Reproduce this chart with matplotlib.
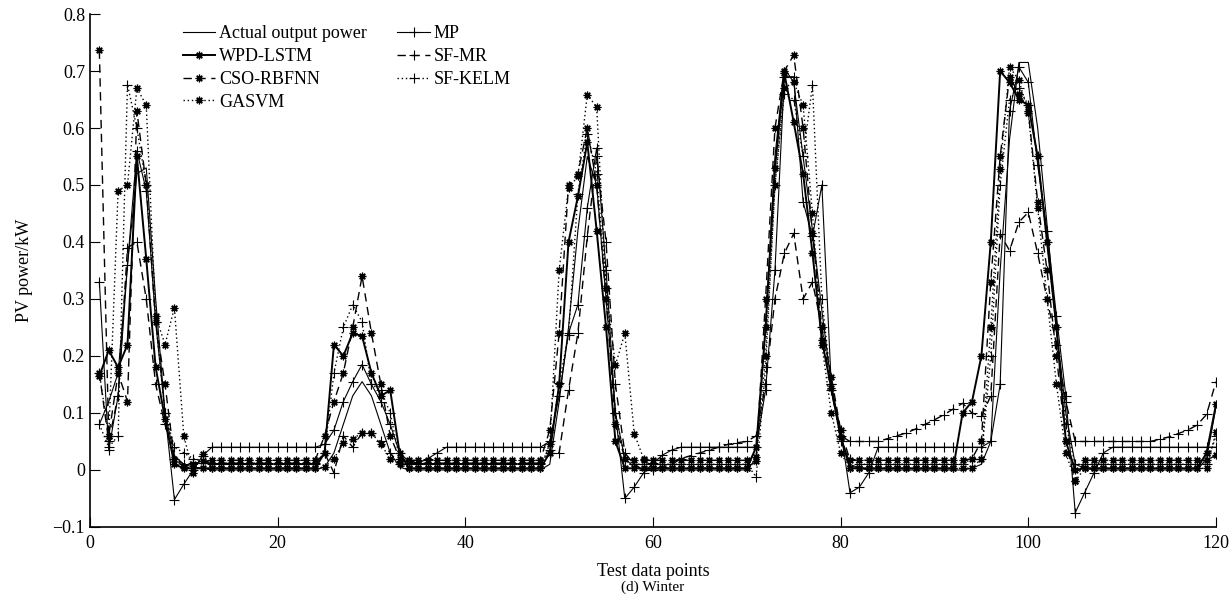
import numpy as np
import matplotlib
matplotlib.use('Agg')
import matplotlib.pyplot as plt
from matplotlib.ticker import FuncFormatter

plt.rcParams['font.family'] = ['Liberation Serif', 'DejaVu Serif']
plt.rcParams['font.size'] = 13

# test data points 1..120
x_points = np.arange(1, 121)

actual = [
    0.08, 0.12, 0.17, 0.36, 0.52, 0.53, 0.30, 0.10, 0.025, 0.01, 0.005, 0.003,
    0.0, 0.0, 0.0, 0.0, 0.0, 0.0, 0.0, 0.0, 0.0, 0.0, 0.0, 0.0,
    0.005, 0.03, 0.08, 0.13, 0.155, 0.13, 0.08, 0.03, 0.005, 0.0, 0.0, 0.0,
    0.0, 0.0, 0.0, 0.0, 0.0, 0.0, 0.0, 0.0, 0.0, 0.0, 0.0, 0.0,
    0.01, 0.12, 0.25, 0.42, 0.55, 0.50, 0.30, 0.10, 0.02, 0.005, 0.0, 0.0,
    0.0, 0.0, 0.0, 0.0, 0.0, 0.0, 0.0, 0.0, 0.0, 0.0, 0.02, 0.25,
    0.55, 0.705, 0.68, 0.55, 0.42, 0.28, 0.15, 0.06, 0.01, 0.003, 0.0, 0.0,
    0.0, 0.0, 0.0, 0.0, 0.0, 0.0, 0.0, 0.0, 0.0, 0.003, 0.01, 0.05,
    0.35, 0.58, 0.715, 0.715, 0.60, 0.43, 0.25, 0.10, 0.01, 0.003, 0.0, 0.0,
    0.0, 0.0, 0.0, 0.0, 0.0, 0.0, 0.0, 0.0, 0.0, 0.0, 0.02, 0.11,
]

mp = [
    0.33, 0.035, 0.13, 0.36, 0.56, 0.49, 0.26, 0.10, -0.052, -0.025, 0.0, 0.025,
    0.04, 0.04, 0.04, 0.04, 0.04, 0.04, 0.04, 0.04, 0.04, 0.04, 0.04, 0.04,
    0.045, 0.07, 0.12, 0.155, 0.185, 0.15, 0.12, 0.08, 0.03, 0.015, 0.012, 0.02,
    0.03, 0.04, 0.04, 0.04, 0.04, 0.04, 0.04, 0.04, 0.04, 0.04, 0.04, 0.04,
    0.05, 0.13, 0.24, 0.29, 0.46, 0.565, 0.35, 0.10, -0.05, -0.03, -0.005, 0.012,
    0.026, 0.035, 0.04, 0.04, 0.04, 0.04, 0.04, 0.04, 0.04, 0.04, 0.04, 0.14,
    0.35, 0.69, 0.69, 0.47, 0.41, 0.50, 0.15, 0.07, -0.04, -0.03, -0.005, 0.04,
    0.04, 0.04, 0.04, 0.04, 0.04, 0.04, 0.04, 0.04, 0.04, 0.04, 0.04, 0.05,
    0.15, 0.63, 0.707, 0.68, 0.535, 0.42, 0.27, 0.13, -0.075, -0.04, -0.005, 0.03,
    0.04, 0.04, 0.04, 0.04, 0.04, 0.04, 0.04, 0.04, 0.04, 0.04, 0.04, 0.04,
]

wpd_lstm = [
    0.165, 0.21, 0.18, 0.22, 0.55, 0.37, 0.18, 0.09, 0.01, 0.003, 0.003, 0.003,
    0.003, 0.003, 0.003, 0.003, 0.003, 0.003, 0.003, 0.003, 0.003, 0.003, 0.003, 0.003,
    0.03, 0.22, 0.20, 0.24, 0.235, 0.17, 0.13, 0.14, 0.03, 0.003, 0.003, 0.003,
    0.003, 0.003, 0.003, 0.003, 0.003, 0.003, 0.003, 0.003, 0.003, 0.003, 0.003, 0.003,
    0.03, 0.15, 0.40, 0.48, 0.575, 0.42, 0.25, 0.05, 0.003, 0.003, 0.003, 0.003,
    0.003, 0.003, 0.003, 0.003, 0.003, 0.003, 0.003, 0.003, 0.003, 0.003, 0.04, 0.25,
    0.53, 0.696, 0.61, 0.52, 0.38, 0.228, 0.143, 0.058, 0.003, 0.003, 0.003, 0.003,
    0.003, 0.003, 0.003, 0.003, 0.003, 0.003, 0.003, 0.003, 0.10, 0.12, 0.20, 0.40,
    0.70, 0.68, 0.65, 0.64, 0.55, 0.40, 0.25, 0.05, 0.0, 0.003, 0.003, 0.003,
    0.003, 0.003, 0.003, 0.003, 0.003, 0.003, 0.003, 0.003, 0.003, 0.003, 0.03, 0.115,
]

cso_rbfnn = [
    0.736, 0.06, 0.17, 0.12, 0.63, 0.50, 0.26, 0.15, 0.02, 0.005, 0.01, 0.015,
    0.017, 0.017, 0.017, 0.017, 0.017, 0.017, 0.017, 0.017, 0.017, 0.017, 0.017, 0.017,
    0.06, 0.12, 0.17, 0.25, 0.34, 0.24, 0.15, 0.06, 0.02, 0.017, 0.017, 0.017,
    0.017, 0.017, 0.017, 0.017, 0.017, 0.017, 0.017, 0.017, 0.017, 0.017, 0.017, 0.017,
    0.07, 0.24, 0.50, 0.52, 0.60, 0.50, 0.30, 0.08, 0.02, 0.017, 0.017, 0.017,
    0.017, 0.017, 0.017, 0.017, 0.017, 0.017, 0.017, 0.017, 0.017, 0.017, 0.023, 0.30,
    0.60, 0.70, 0.728, 0.60, 0.415, 0.25, 0.164, 0.07, 0.017, 0.017, 0.017, 0.017,
    0.017, 0.017, 0.017, 0.017, 0.017, 0.017, 0.017, 0.017, 0.017, 0.02, 0.05, 0.33,
    0.55, 0.69, 0.66, 0.63, 0.47, 0.35, 0.20, 0.05, -0.02, 0.017, 0.017, 0.017,
    0.017, 0.017, 0.017, 0.017, 0.017, 0.017, 0.017, 0.017, 0.017, 0.017, 0.017, 0.026,
]

gasvm = [
    0.17, 0.06, 0.49, 0.50, 0.67, 0.64, 0.27, 0.22, 0.285, 0.06, -0.005, 0.028,
    0.003, 0.003, 0.003, 0.003, 0.003, 0.003, 0.003, 0.003, 0.003, 0.003, 0.003, 0.003,
    0.005, 0.02, 0.047, 0.055, 0.065, 0.065, 0.045, 0.02, 0.01, 0.003, 0.003, 0.003,
    0.003, 0.003, 0.003, 0.003, 0.003, 0.003, 0.003, 0.003, 0.003, 0.003, 0.003, 0.003,
    0.046, 0.35, 0.495, 0.515, 0.658, 0.637, 0.32, 0.184, 0.24, 0.064, 0.02, 0.003,
    0.003, 0.003, 0.003, 0.003, 0.003, 0.003, 0.003, 0.003, 0.003, 0.003, 0.015, 0.20,
    0.50, 0.67, 0.68, 0.64, 0.45, 0.22, 0.10, 0.03, 0.003, 0.003, 0.003, 0.003,
    0.003, 0.003, 0.003, 0.003, 0.003, 0.003, 0.003, 0.003, 0.003, 0.003, 0.02, 0.25,
    0.528, 0.707, 0.684, 0.626, 0.46, 0.30, 0.15, 0.03, -0.02, 0.003, 0.003, 0.003,
    0.003, 0.003, 0.003, 0.003, 0.003, 0.003, 0.003, 0.003, 0.003, 0.003, 0.003, 0.067,
]

sf_mr = [
    0.17, 0.05, 0.13, 0.39, 0.40, 0.30, 0.15, 0.08, 0.02, 0.01, 0.012, 0.013,
    0.012, 0.012, 0.012, 0.012, 0.012, 0.012, 0.012, 0.012, 0.012, 0.012, 0.012, 0.012,
    0.03, -0.005, 0.06, 0.04, 0.065, 0.065, 0.05, 0.03, 0.01, 0.012, 0.012, 0.012,
    0.012, 0.012, 0.012, 0.012, 0.012, 0.012, 0.012, 0.012, 0.012, 0.012, 0.012, 0.012,
    0.03, 0.03, 0.14, 0.24, 0.41, 0.55, 0.40, 0.15, 0.03, 0.01, 0.0, 0.0,
    0.005, 0.01, 0.02, 0.025, 0.03, 0.035, 0.04, 0.045, 0.048, 0.05, 0.06, 0.15,
    0.30, 0.38, 0.415, 0.30, 0.33, 0.25, 0.14, 0.06, 0.05, 0.05, 0.05, 0.05,
    0.055, 0.06, 0.065, 0.072, 0.08, 0.088, 0.097, 0.107, 0.117, 0.10, 0.094, 0.13,
    0.414, 0.385, 0.435, 0.452, 0.38, 0.30, 0.22, 0.12, 0.05, 0.05, 0.05, 0.05,
    0.05, 0.05, 0.05, 0.05, 0.05, 0.054, 0.058, 0.064, 0.07, 0.079, 0.0975, 0.155,
]

sf_kelm = [
    0.08, 0.04, 0.06, 0.676, 0.60, 0.50, 0.26, 0.10, 0.04, 0.03, 0.02, 0.015,
    0.01, 0.01, 0.01, 0.01, 0.01, 0.01, 0.01, 0.01, 0.01, 0.01, 0.01, 0.01,
    0.03, 0.17, 0.25, 0.29, 0.26, 0.15, 0.14, 0.10, 0.02, 0.01, 0.01, 0.01,
    0.01, 0.01, 0.01, 0.01, 0.01, 0.01, 0.01, 0.01, 0.01, 0.01, 0.01, 0.01,
    0.035, 0.152, 0.237, 0.485, 0.59, 0.52, 0.32, 0.10, 0.02, 0.01, 0.01, 0.01,
    0.01, 0.01, 0.01, 0.01, 0.01, 0.01, 0.01, 0.01, 0.01, 0.01, -0.012, 0.18,
    0.50, 0.66, 0.65, 0.55, 0.675, 0.30, 0.15, 0.05, 0.02, 0.01, 0.01, 0.01,
    0.01, 0.01, 0.01, 0.01, 0.01, 0.01, 0.01, 0.01, 0.01, 0.02, 0.02, 0.20,
    0.50, 0.65, 0.67, 0.64, 0.55, 0.40, 0.25, 0.08, 0.01, 0.01, 0.01, 0.01,
    0.01, 0.01, 0.01, 0.01, 0.01, 0.01, 0.01, 0.01, 0.01, 0.01, 0.01, 0.06,
]

x_ticks = [0, 20, 40, 60, 80, 100, 120]
y_ticks = [-0.1, 0, 0.1, 0.2, 0.3, 0.4, 0.5, 0.6, 0.7, 0.8]


def tick_fmt(v, pos):
    return ('%g' % round(v, 3)).replace('-', '\u2212')


fig = plt.figure(figsize=(12.29, 5.96), dpi=100)
ax = fig.add_axes([0.0732, 0.1158, 0.9162, 0.8607])

dash = (0, (6, 4))
dot = (0, (1, 2))
k = 'black'
star = (8, 2, 0)  # asterisk marker, like the matlab '*'

ax.plot(x_points, actual, color=k, lw=0.8, label='Actual output power')
ax.plot(x_points, wpd_lstm, color=k, lw=1.4, marker=star, ms=5.5, mew=0.9,
        label='WPD-LSTM')
ax.plot(x_points, cso_rbfnn, color=k, lw=1.0, ls=dash, marker=star, ms=5.5,
        mew=0.9, label='CSO-RBFNN')
ax.plot(x_points, gasvm, color=k, lw=1.0, ls=dot, marker=star, ms=5.5,
        mew=0.9, label='GASVM')
ax.plot(x_points, mp, color=k, lw=0.8, marker='+', ms=7, mew=0.8,
        label='MP')
ax.plot(x_points, sf_mr, color=k, lw=1.0, ls=dash, marker='+', ms=7, mew=0.8,
        label='SF-MR')
ax.plot(x_points, sf_kelm, color=k, lw=1.0, ls=dot, marker='+', ms=7, mew=0.8,
        label='SF-KELM')

ax.set_xlim(0, 120)
ax.set_ylim(-0.1, 0.8)
ax.set_xticks(x_ticks)
ax.set_yticks(y_ticks)
ax.yaxis.set_major_formatter(FuncFormatter(tick_fmt))
ax.tick_params(direction='in', length=7, width=0.8, labelsize=13)
ax.tick_params(axis='x', pad=6)
for side in ['top', 'right']:
    ax.spines[side].set_visible(False)
for side in ['left', 'bottom']:
    ax.spines[side].set_linewidth(1.2)

ax.set_xlabel('Test data points', fontsize=13, labelpad=8)
ax.set_ylabel('PV power/kW', fontsize=13, labelpad=14)

ax.legend(ncol=2, frameon=False, loc='upper left',
          bbox_to_anchor=(0.076, 0.992), fontsize=13, handlelength=1.8,
          labelspacing=0.32, columnspacing=1.7, handletextpad=0.2,
          borderaxespad=0.0)

fig.text(0.531, 0.003, '(d) Winter', ha='center', va='bottom', fontsize=11)

fig.savefig('out.png', dpi=100)
